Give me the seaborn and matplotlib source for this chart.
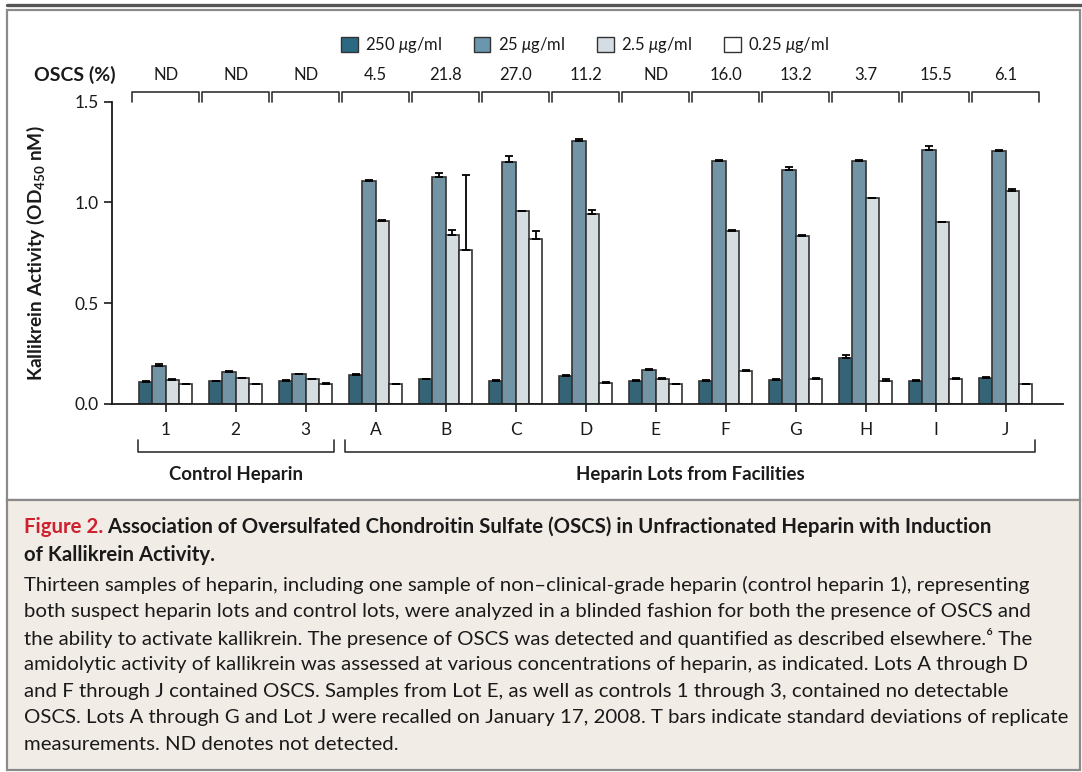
import numpy as np
import pandas as pd
import matplotlib
matplotlib.use('Agg')
import matplotlib.pyplot as plt
from matplotlib.patches import Rectangle, Patch
from matplotlib.lines import Line2D
import seaborn as sns

# Data
samples = ['1', '2', '3', 'A', 'B', 'C', 'D', 'E', 'F', 'G', 'H', 'I', 'J']
oscs = ['ND', 'ND', 'ND', '4.5', '21.8', '27.0', '11.2', 'ND', '16.0', '13.2', '3.7', '15.5', '6.1']
concs = ['250 $\\mu$g/ml', '25 $\\mu$g/ml', '2.5 $\\mu$g/ml', '0.25 $\\mu$g/ml']

act_250 = [0.111, 0.113, 0.114, 0.145, 0.122, 0.116, 0.141, 0.116, 0.116, 0.121, 0.228, 0.116, 0.131]
act_25 = [0.189, 0.159, 0.147, 1.105, 1.125, 1.201, 1.307, 0.170, 1.207, 1.163, 1.207, 1.261, 1.256]
act_2_5 = [0.119, 0.127, 0.122, 0.907, 0.837, 0.958, 0.944, 0.124, 0.859, 0.832, 1.021, 0.902, 1.059]
act_0_25 = [0.099, 0.099, 0.100, 0.099, 0.766, 0.820, 0.106, 0.098, 0.164, 0.124, 0.114, 0.124, 0.099]

sd_250 = [0.004, 0.003, 0.003, 0.004, 0.004, 0.003, 0.004, 0.003, 0.003, 0.003, 0.015, 0.003, 0.004]
sd_25 = [0.008, 0.003, 0.003, 0.004, 0.020, 0.030, 0.008, 0.003, 0.003, 0.012, 0.006, 0.020, 0.005]
sd_2_5 = [0.003, 0.003, 0.003, 0.004, 0.025, 0.002, 0.020, 0.003, 0.002, 0.008, 0.003, 0.003, 0.010]
sd_0_25 = [0.002, 0.002, 0.002, 0.002, 0.370, 0.040, 0.002, 0.002, 0.004, 0.003, 0.012, 0.003, 0.002]

colors = ['#2b6882', '#6a97ad', '#d3dde3', '#ffffff']

caption_title = ('Association of Oversulfated Chondroitin Sulfate (OSCS) in Unfractionated Heparin with Induction')
caption_title2 = 'of Kallikrein Activity.'
caption_body = [
    'Thirteen samples of heparin, including one sample of non\u2013clinical-grade heparin (control heparin 1), representing',
    'both suspect heparin lots and control lots, were analyzed in a blinded fashion for both the presence of OSCS and',
    'the ability to activate kallikrein. The presence of OSCS was detected and quantified as described elsewhere.\u2076 The',
    'amidolytic activity of kallikrein was assessed at various concentrations of heparin, as indicated. Lots A through D',
    'and F through J contained OSCS. Samples from Lot E, as well as controls 1 through 3, contained no detectable',
    'OSCS. Lots A through G and Lot J were recalled on January 17, 2008. T bars indicate standard deviations of replicate',
    'measurements. ND denotes not detected.',
]

values = [act_250, act_25, act_2_5, act_0_25]
errors = [sd_250, sd_25, sd_2_5, sd_0_25]
df = pd.DataFrame({
    'sample': samples * 4,
    'conc': [c for c in concs for _ in samples],
    'value': sum(values, []),
})

sns.set_style('ticks')
plt.rcParams['font.family'] = ['Lato', 'DejaVu Sans']
plt.rcParams['mathtext.fontset'] = 'custom'
plt.rcParams['mathtext.rm'] = 'Lato'
plt.rcParams['mathtext.it'] = 'Lato:italic'
plt.rcParams['mathtext.bf'] = 'Lato:bold'

W, H = 1082, 772
fig = plt.figure(figsize=(W / 100, H / 100), dpi=100)


def fx(px):
    return px / W


def fy(py):
    return 1 - py / H


# panels (behind the axes)
fig.patches.append(Rectangle((fx(7), fy(500)), fx(1080) - fx(7), fy(10) - fy(500),
                             transform=fig.transFigure, facecolor='white',
                             edgecolor='#8a8a8a', lw=1.6, zorder=-2))
fig.patches.append(Rectangle((fx(7), fy(770)), fx(1080) - fx(7), fy(500) - fy(770),
                             transform=fig.transFigure, facecolor='#f2ece7',
                             edgecolor='#8a8a8a', lw=1.6, zorder=-2))
fig.lines.append(Line2D([fx(7), fx(1082)], [fy(4.5), fy(4.5)], transform=fig.transFigure,
                        color='#555555', lw=2.4, zorder=-1))

ax = fig.add_axes([fx(112), fy(404), fx(1063) - fx(112), fy(101.7) - fy(404)])
ax.set_facecolor('none')

sns.barplot(data=df, x='sample', y='value', hue='conc', order=samples, hue_order=concs,
            palette=dict(zip(concs, colors)), width=0.76, edgecolor='#333333',
            linewidth=1.2, errorbar=None, legend=False, ax=ax, zorder=2)

# T bars (upper side only)
for cont, err in zip(ax.containers, errors):
    xs = [b.get_x() + b.get_width() / 2 for b in cont]
    ys = [b.get_height() for b in cont]
    ax.errorbar(xs, ys, yerr=[np.zeros(len(err)), err], fmt='none', ecolor='black',
                elinewidth=1.3, capsize=2.6, capthick=1.3, zorder=3)

ax.set_ylim(0, 1.5)
ax.set_xlim(-0.766, 12.82)
ax.set_yticks([0, 0.5, 1.0, 1.5])
ax.set_yticklabels(['0.0', '0.5', '1.0', '1.5'])
ax.set_xlabel('')
ax.set_ylabel('Kallikrein Activity (OD$_{\\mathbf{450}}$ nM)', fontsize=13.8,
              fontweight='bold', color='#1a1a1a')
ax.yaxis.set_label_coords(-0.068, 0.5)
sns.despine(ax=ax)
for s in ['left', 'bottom']:
    ax.spines[s].set_linewidth(1.3)
    ax.spines[s].set_color('#1a1a1a')
ax.tick_params(axis='both', direction='out', length=6, width=1.2, color='#1a1a1a',
               labelsize=12.5, labelcolor='#1a1a1a')
ax.tick_params(axis='x', pad=7)

# OSCS brackets and values on top
for i, val in enumerate(oscs):
    ax.plot([i - 0.48, i - 0.48, i + 0.48, i + 0.48], [1.497, 1.548, 1.548, 1.497],
            color='#333333', lw=1.2, clip_on=False)
    ax.text(i, 1.633, val, ha='center', va='center', fontsize=12, color='#1a1a1a')
ax.text(-0.72, 1.633, 'OSCS (%)', ha='right', va='center', fontsize=14,
        fontweight='bold', color='#1a1a1a')

# bottom group brackets
groups = [('Control Heparin', -0.39, 2.41), ('Heparin Lots from Facilities', 2.56, 12.42)]
for name, x0, x1 in groups:
    ax.plot([x0, x0, x1, x1], [-0.179, -0.238, -0.238, -0.179], color='#333333',
            lw=1.2, clip_on=False)
    ax.text((x0 + x1) / 2, -0.352, name, ha='center', va='center', fontsize=13.4,
            fontweight='bold', color='#1a1a1a')

# legend
handles = [Patch(facecolor=c, edgecolor='#333333', lw=1.0) for c in colors]
fig.legend(handles, concs, loc='center', bbox_to_anchor=(fx(585), fy(45)), ncol=4,
           frameon=False, fontsize=12, handlelength=1.0, handleheight=1.0,
           handletextpad=0.45, columnspacing=1.9, labelcolor='#1a1a1a')

# caption
cap_fs = 14.7
t1 = fig.text(fx(24), fy(527), 'Figure 2.', fontsize=cap_fs, fontweight='bold',
              color='#cf2030', va='center')
ax.annotate(' ' + caption_title, xy=(1, 0), xycoords=t1, va='bottom', ha='left',
            fontsize=cap_fs, fontweight='bold', color='#1a1a1a', annotation_clip=False)
fig.text(fx(24), fy(555), caption_title2, fontsize=cap_fs, fontweight='bold',
         color='#1a1a1a', va='center')
for k, line in enumerate(caption_body):
    fig.text(fx(24), fy(585 + 26.5 * k), line, fontsize=cap_fs, color='#1a1a1a', va='center')

fig.savefig('out.png', dpi=100)
